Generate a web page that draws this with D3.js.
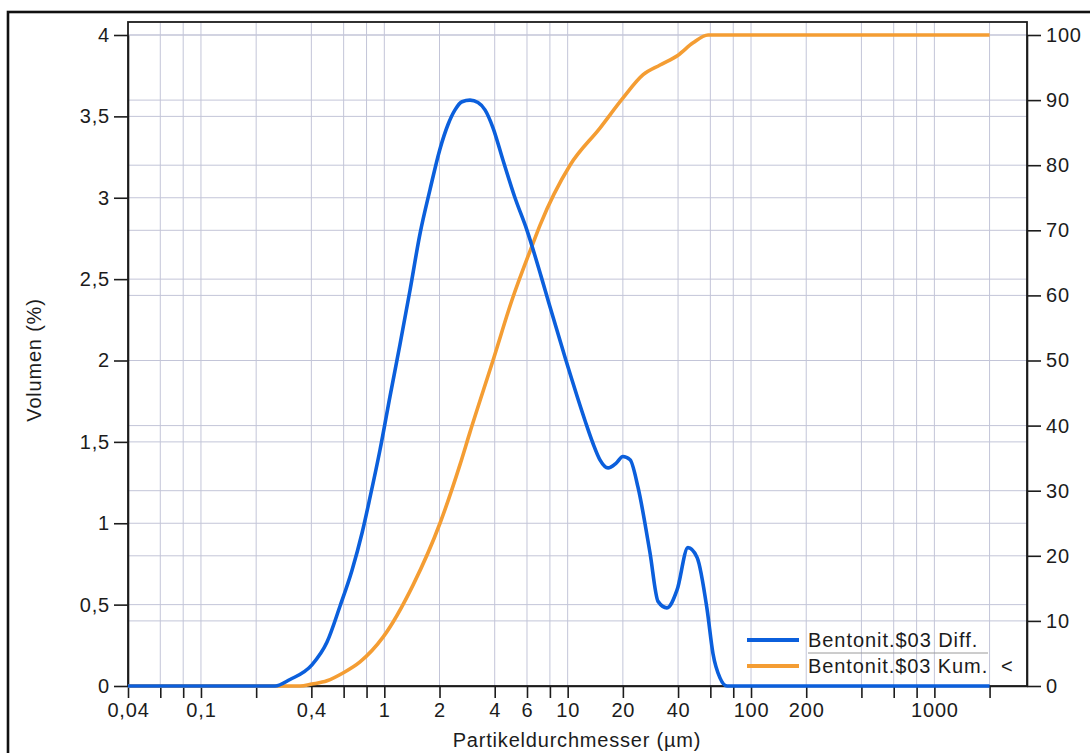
<!DOCTYPE html>
<html>
<head>
<meta charset="utf-8">
<script src="https://cdn.jsdelivr.net/npm/d3@7"></script>
<style>
  body { margin: 0; background: #fff; }
  svg { display: block; font-family: "Liberation Sans", Arial, sans-serif; }
  svg text { font-size: 20px; fill: #1c1c1c; letter-spacing: 0.8px; }
  .axis text { font-size: 20px; fill: #1c1c1c; }
  .axis line, .axis path { stroke: #1c1c1c; stroke-width: 1.6; }
</style>
</head>
<body>
<svg id="chart"></svg>
<script>
// Partikeldurchmesser (µm) / Volumen (%) – Differenzkurve
const diffX = [0.04, 0.1, 0.2, 0.2535, 0.306, 0.403, 0.487, 0.573, 0.666, 0.756, 0.836, 0.947,
  1.074, 1.218, 1.380, 1.566, 1.775, 2.012, 2.226, 2.430, 2.653, 2.933, 3.243, 3.541, 3.915,
  4.44, 5.16, 6.00, 7.15, 7.91, 9.79, 12.44, 13.75, 15.0, 16.6, 18.4, 20.0, 21.9, 24.2, 28.1,
  31.1, 34.8, 39.5, 45.3, 50.8, 57.6, 62.0, 67.7, 74.0, 200, 2000];
const diffY = [0, 0, 0, 0, 0.04, 0.13, 0.27, 0.49, 0.71, 0.94, 1.16, 1.45,
  1.78, 2.1, 2.43, 2.78, 3.05, 3.3, 3.45, 3.54, 3.59, 3.60, 3.585, 3.54, 3.43,
  3.23, 3.0, 2.80, 2.52, 2.35, 2.0, 1.63, 1.49, 1.39, 1.34, 1.37, 1.41, 1.39, 1.22, 0.82,
  0.52, 0.48, 0.59, 0.85, 0.79, 0.47, 0.2, 0.05, 0, 0, 0];

// Summenkurve (Kum. <), in %
const kumX = [0.04, 0.2, 0.347, 0.403, 0.487, 0.595, 0.737, 0.984, 1.434, 2.012, 2.587, 2.933,
  3.965, 4.97, 6.47, 7.07, 10.30, 15.0, 20.0, 25.8, 31.9, 40.0, 48.3, 58.3, 100, 2000];
const kumY = [0, 0, 0, 0.3, 0.8, 2.0, 3.7, 7.5, 15.5, 25, 34, 39,
  50.5, 59.3, 68, 70.8, 80, 85.7, 90.3, 93.9, 95.4, 96.9, 98.8, 100, 100, 100];

const xTicks = [0.04, 0.06, 0.08, 0.1, 0.2, 0.4, 0.6, 0.8, 1, 2, 4, 6, 8, 10, 20, 40, 60, 80,
  100, 200, 400, 600, 800, 1000, 2000];
const xTickLabels = ["0,04", "", "", "0,1", "", "0,4", "", "", "1", "2", "4", "6", "", "10", "20", "40", "", "",
  "100", "200", "", "", "", "1000", ""];
const yLeftTicks = [0, 0.5, 1, 1.5, 2, 2.5, 3, 3.5, 4];
const yLeftLabels = ["0", "0,5", "1", "1,5", "2", "2,5", "3", "3,5", "4"];
const yRightTicks = [0, 10, 20, 30, 40, 50, 60, 70, 80, 90, 100];

const seriesNames = ["Bentonit.$03 Diff.", "Bentonit.$03 Kum."];
const seriesColors = ["#0b5fdc", "#f49d33"];

const W = 1090, H = 753;
const plotLeft = 128, plotRight = 1027, plotTop = 22, plotBottom = 686;

const svg = d3.select("#chart").attr("width", W).attr("height", H);

// äußerer Rahmen
svg.append("rect")
  .attr("x", 8).attr("y", 12).attr("width", 1100).attr("height", 800)
  .attr("fill", "none").attr("stroke", "#111").attr("stroke-width", 2.6);

const x = d3.scaleLog().domain([0.04, 3200]).range([plotLeft, plotRight]);
const yL = d3.scaleLinear().domain([0, 4]).range([plotBottom, 35]);
const yR = d3.scaleLinear().domain([0, 100]).range([plotBottom, 35]);

// Gitter
const grid = svg.append("g").attr("stroke", "#c3c5d8").attr("stroke-width", 1);
grid.selectAll(".gx")
  .data(xTicks.slice(1))
  .enter().append("line")
  .attr("x1", d => x(d)).attr("x2", d => x(d))
  .attr("y1", plotTop).attr("y2", plotBottom);
grid.selectAll(".gyl")
  .data(yLeftTicks.slice(1))
  .enter().append("line")
  .attr("x1", plotLeft).attr("x2", plotRight)
  .attr("y1", d => yL(d)).attr("y2", d => yL(d));
grid.selectAll(".gyr")
  .data(yRightTicks.slice(1))
  .enter().append("line")
  .attr("x1", plotLeft).attr("x2", plotRight)
  .attr("y1", d => yR(d)).attr("y2", d => yR(d));

// Achsen
svg.append("g")
  .attr("class", "axis")
  .attr("transform", `translate(0,${plotBottom})`)
  .call(d3.axisBottom(x).tickValues(xTicks)
    .tickFormat((d, i) => xTickLabels[i]).tickSize(12).tickSizeOuter(0).tickPadding(5));

svg.append("g")
  .attr("class", "axis")
  .attr("transform", `translate(${plotLeft},0)`)
  .call(d3.axisLeft(yL).tickValues(yLeftTicks)
    .tickFormat((d, i) => yLeftLabels[i]).tickSize(14).tickSizeOuter(0).tickPadding(4));

svg.append("g")
  .attr("class", "axis")
  .attr("transform", `translate(${plotRight},0)`)
  .call(d3.axisRight(yR).tickValues(yRightTicks).tickSize(14).tickSizeOuter(0).tickPadding(5));

// Rahmen des Diagramms
svg.append("rect")
  .attr("x", plotLeft).attr("y", plotTop)
  .attr("width", plotRight - plotLeft).attr("height", plotBottom - plotTop)
  .attr("fill", "none").attr("stroke", "#1c1c1c").attr("stroke-width", 1.8);

// Achsentitel
svg.append("text")
  .attr("x", 577).attr("y", 747)
  .attr("text-anchor", "middle")
  .text("Partikeldurchmesser (µm)");

svg.append("text")
  .attr("transform", "translate(41,360) rotate(-90)")
  .attr("text-anchor", "middle")
  .text("Volumen (%)");

// Kurven
const lineL = d3.line().x(d => x(d[0])).y(d => yL(d[1])).curve(d3.curveMonotoneX);
const lineR = d3.line().x(d => x(d[0])).y(d => yR(d[1])).curve(d3.curveMonotoneX);

svg.append("path")
  .datum(kumX.map((v, i) => [v, kumY[i]]))
  .attr("d", lineR)
  .attr("fill", "none").attr("stroke", seriesColors[1]).attr("stroke-width", 3.6)
  .attr("stroke-linejoin", "round");

svg.append("path")
  .datum(diffX.map((v, i) => [v, diffY[i]]))
  .attr("d", lineL)
  .attr("fill", "none").attr("stroke", seriesColors[0]).attr("stroke-width", 3.6)
  .attr("stroke-linejoin", "round");

// Legende
const legend = svg.append("g");
const legY = [640, 666];
const legTextLen = [170, 180];
seriesNames.forEach((name, i) => {
  legend.append("line")
    .attr("x1", 747).attr("x2", 799)
    .attr("y1", legY[i]).attr("y2", legY[i])
    .attr("stroke", seriesColors[i]).attr("stroke-width", 4);
  legend.append("text")
    .attr("x", 808).attr("y", legY[i] + 7)
    .attr("textLength", legTextLen[i]).attr("lengthAdjust", "spacing")
    .text(name);
});
legend.append("line")
  .attr("x1", 808).attr("x2", 988).attr("y1", 653).attr("y2", 653)
  .attr("stroke", "#9a9a9a").attr("stroke-width", 1);
legend.append("text")
  .attr("x", 1001).attr("y", legY[1] + 7)
  .text("<");
</script>
</body>
</html>
